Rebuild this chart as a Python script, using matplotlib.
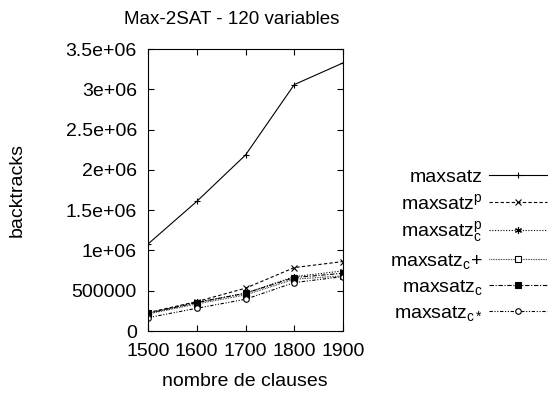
import matplotlib
matplotlib.use("Agg")
import matplotlib.pyplot as plt

plt.rcParams['font.family'] = ['Liberation Sans', 'DejaVu Sans']
plt.rcParams['mathtext.fontset'] = 'custom'
plt.rcParams['mathtext.rm'] = 'Liberation Sans'
plt.rcParams['mathtext.it'] = 'Liberation Sans'

clauses = [1500, 1600, 1700, 1800, 1900]
maxsatz = [1080000, 1608000, 2184000, 3058000, 3327000]
maxsatz_p = [228000, 365000, 531000, 787000, 862000]
maxsatz_cp = [220000, 357000, 469000, 675000, 746000]
maxsatz_cplus = [211000, 336000, 448000, 643000, 684000]
maxsatz_c = [220000, 352000, 469000, 663000, 717000]
maxsatz_cstar = [165000, 282000, 394000, 601000, 675000]

labels = ['maxsatz', 'maxsatz$^{\\mathrm{p}}$', 'maxsatz$_{\\mathrm{c}}^{\\mathrm{p}}$',
          'maxsatz$_{\\mathrm{c}}$+', 'maxsatz$_{\\mathrm{c}}$', 'maxsatz$_{\\mathrm{c*}}$']
yticks = [0, 500000, 1000000, 1500000, 2000000, 2500000, 3000000, 3500000]
yticklabels = ['0', '500000', '1e+06', '1.5e+06', '2e+06', '2.5e+06', '3e+06', '3.5e+06']

fs = 14
fig = plt.figure(figsize=(5.52, 3.94), dpi=100)
ax = fig.add_axes([148/552, 1-331/394, (343-148)/552, (331-49)/394])

lw = 0.8
series = [maxsatz, maxsatz_p, maxsatz_cp, maxsatz_cplus, maxsatz_c, maxsatz_cstar]
styles = [
    dict(ls='-', marker='+', ms=5, mfc='black'),
    dict(ls=(0, (3, 2)), marker='x', ms=4, mfc='black'),
    dict(ls=(0, (1, 1.5)), marker=(6, 2, 0), ms=5, mfc='black'),
    dict(ls=(0, (0.6, 0.9)), marker='s', ms=4, mfc='white'),
    dict(ls=(0, (4, 1.5, 1, 1.5)), marker='s', ms=4.5, mfc='black'),
    dict(ls=(0, (3, 1.5, 1, 1.5, 1, 1.5)), marker='o', ms=4, mfc='white'),
]
handles = []
for vals, st, lab in zip(series, styles, labels):
    h, = ax.plot(clauses, vals, color='black', lw=lw, mec='black', mew=0.8, label=lab, **st)
    handles.append(h)

ax.set_xlim(1500, 1900)
ax.set_ylim(0, 3500000)
ax.set_xticks(clauses)
ax.set_xticklabels([str(c) for c in clauses])
ax.set_yticks(yticks)
ax.set_yticklabels(yticklabels)
ax.tick_params(direction='in', length=4, width=0.8, labelsize=fs, top=True, right=True)
ax.tick_params(axis='y', pad=8)
ax.tick_params(axis='x', pad=9)
for sp in ax.spines.values():
    sp.set_linewidth(0.8)

fig.text(232/552, 1-20/394, 'Max-2SAT - 120 variables', ha='center', va='center', fontsize=13.5)
fig.text(17/552, 1-190/394, 'backtracks', ha='center', va='center', rotation=90, fontsize=fs)
fig.text(245/552, 1-382/394, 'nombre de clauses', ha='center', va='center', fontsize=fs)

leg = fig.legend(handles=handles, labels=labels, loc='upper right',
                 bbox_to_anchor=(547/552, 1-168/394), markerfirst=False, frameon=False,
                 fontsize=fs, handlelength=3.0, handletextpad=0.3, labelspacing=0.36,
                 borderpad=0, borderaxespad=0, numpoints=1)

fig.savefig('out.png', dpi=100)
